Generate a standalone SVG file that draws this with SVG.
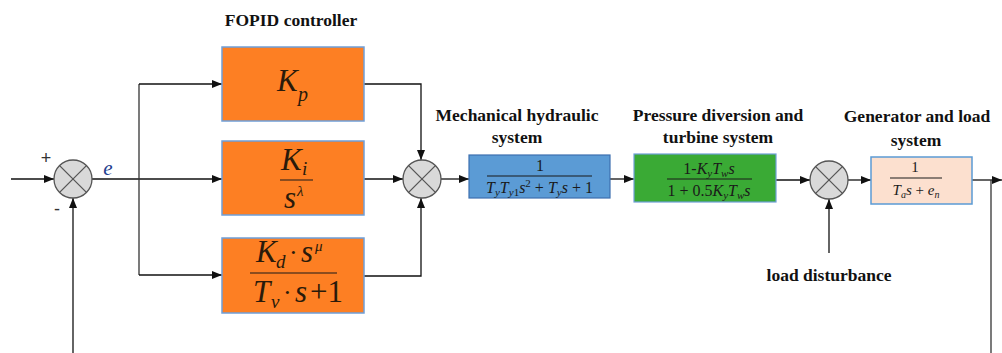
<svg xmlns="http://www.w3.org/2000/svg" width="1002" height="353" viewBox="0 0 1002 353">
<defs>
<marker id="ah" viewBox="0 0 10 10" refX="10" refY="5" markerWidth="10" markerHeight="10" markerUnits="userSpaceOnUse" orient="auto"><path d="M0,1 L10,5 L0,9 z" fill="#111"/></marker>
</defs>
<style>
.ln{fill:none;stroke:#333;stroke-width:1.3}
.ar{fill:none;stroke:#111;stroke-width:1.3;marker-end:url(#ah)}
.sum{fill:#d9d9d9;stroke:#555;stroke-width:1.3}
.x{stroke:#555;stroke-width:1.3}
.lbl{font-weight:bold;font-size:17.5px;fill:#111;text-anchor:middle}
.m{font-style:italic;fill:#2a1a0a}
.mu{fill:#2a1a0a}
.t{fill:#1a1a1a;text-anchor:middle}
.i{font-style:italic}
.orange{fill:#fd7f23;stroke:#6f9fd8;stroke-width:1.5}
.blue{fill:#5b9bd5;stroke:#3c6fb0;stroke-width:1.2}
.green{fill:#3aaa35;stroke:#6f9fd8;stroke-width:1.2}
.peach{fill:#fce0cf;stroke:#5b9bd5;stroke-width:1.5}
.fr{stroke:#1a1a1a;stroke-width:1.2}
</style>

<g id="connectors">
<line class="ar" x1="11" y1="179" x2="54" y2="179"/>
<line class="ar" x1="73" y1="353" x2="73" y2="198"/>
<line class="ar" x1="92" y1="179" x2="222" y2="179"/>
<line class="ln" x1="139" y1="275" x2="139" y2="84"/>
<line class="ar" x1="139" y1="84" x2="222" y2="84"/>
<line class="ar" x1="139" y1="275" x2="222" y2="275"/>
<polyline class="ar" points="364,84 421,84 421,160"/>
<line class="ar" x1="364" y1="179" x2="403" y2="179"/>
<polyline class="ar" points="364,276 421,276 421,198"/>
<line class="ar" x1="441" y1="179" x2="469" y2="179"/>
<line class="ar" x1="610" y1="179" x2="634" y2="179"/>
<line class="ar" x1="776" y1="180" x2="810" y2="180"/>
<line class="ar" x1="829" y1="253" x2="829" y2="199"/>
<line class="ar" x1="848" y1="180" x2="871" y2="180"/>
<line class="ar" x1="972" y1="180" x2="1002" y2="180"/>
<line class="ln" x1="991" y1="180" x2="991" y2="353"/>
</g>

<g id="sum1">
<circle class="sum" cx="73" cy="179" r="19"/>
<line class="x" x1="59.6" y1="165.6" x2="86.4" y2="192.4"/>
<line class="x" x1="86.4" y1="165.6" x2="59.6" y2="192.4"/>
<text x="46" y="164" font-size="18" fill="#333" text-anchor="middle" font-family="Liberation Sans, sans-serif">+</text>
<text x="57" y="215" font-size="18" fill="#333" text-anchor="middle" font-family="Liberation Sans, sans-serif">-</text>
<text x="108" y="175" font-style="italic" font-size="21" fill="#1f3f8f" text-anchor="middle" font-family="Liberation Serif, serif">e</text>
</g>

<g id="fopid-label">
<text class="lbl" x="291" y="26" font-family="Liberation Serif, serif">FOPID controller</text>
</g>

<g id="kp">
<rect class="orange" x="222" y="47" width="142" height="74"/>
<text class="m" x="277" y="91" font-size="31" font-family="Liberation Serif, serif">K</text>
<text class="m" x="298" y="101" font-size="20" font-family="Liberation Serif, serif">p</text>
</g>

<g id="ki">
<rect class="orange" x="222" y="141" width="142" height="74"/>
<text class="m" x="281" y="170" font-size="31" font-family="Liberation Serif, serif">K</text>
<text class="m" x="302" y="175" font-size="19" font-family="Liberation Serif, serif">i</text>
<line class="fr" x1="280" y1="180" x2="313" y2="180"/>
<text class="m" x="284" y="208" font-size="31" font-family="Liberation Serif, serif">s</text>
<text class="m" x="297" y="196" font-size="15" font-family="Liberation Serif, serif">λ</text>
</g>

<g id="kd">
<rect class="orange" x="222" y="238" width="142" height="75"/>
<text class="m" x="256" y="262" font-size="31" font-family="Liberation Serif, serif">K</text>
<text class="m" x="276" y="268" font-size="19" font-family="Liberation Serif, serif">d</text>
<text class="mu" x="289" y="261" font-size="26" font-family="Liberation Serif, serif">·</text>
<text class="m" x="301" y="262" font-size="31" font-family="Liberation Serif, serif">s</text>
<text class="m" x="315" y="251" font-size="15" font-family="Liberation Serif, serif">μ</text>
<line class="fr" x1="250" y1="273" x2="337" y2="273"/>
<text class="m" x="253" y="302" font-size="31" font-family="Liberation Serif, serif">T</text>
<text class="m" x="271" y="308" font-size="19" font-family="Liberation Serif, serif">v</text>
<text class="mu" x="283" y="301" font-size="26" font-family="Liberation Serif, serif">·</text>
<text class="m" x="295" y="302" font-size="31" font-family="Liberation Serif, serif">s</text>
<text class="mu" x="310" y="302" font-size="31" font-family="Liberation Serif, serif">+1</text>
</g>

<g id="sum2">
<circle class="sum" cx="422" cy="179" r="19"/>
<line class="x" x1="408.6" y1="165.6" x2="435.4" y2="192.4"/>
<line class="x" x1="435.4" y1="165.6" x2="408.6" y2="192.4"/>
</g>

<g id="mech">
<text class="lbl" x="517" y="121" font-family="Liberation Serif, serif">Mechanical hydraulic</text>
<text class="lbl" x="517" y="143" font-family="Liberation Serif, serif">system</text>
<rect class="blue" x="469" y="155" width="141" height="43"/>
<text class="t" x="540" y="171" font-size="16" font-family="Liberation Serif, serif">1</text>
<line class="fr" x1="487" y1="176" x2="592" y2="176"/>
<text class="t" x="539.5" y="193" font-size="16" font-family="Liberation Serif, serif"><tspan class="i">T</tspan><tspan class="i" font-size="11" dy="3">y</tspan><tspan class="i" dy="-3">T</tspan><tspan class="i" font-size="11" dy="3">y</tspan><tspan font-size="11">1</tspan><tspan class="i" dy="-3">s</tspan><tspan font-size="11" dy="-6">2</tspan><tspan dy="6"> + </tspan><tspan class="i">T</tspan><tspan class="i" font-size="11" dy="3">y</tspan><tspan class="i" dy="-3">s</tspan><tspan> + 1</tspan></text>
</g>

<g id="turbine">
<text class="lbl" x="718" y="121" font-family="Liberation Serif, serif">Pressure diversion and</text>
<text class="lbl" x="718" y="143" font-family="Liberation Serif, serif">turbine system</text>
<rect class="green" x="634" y="154" width="142" height="48"/>
<text class="t" x="709" y="174" font-size="16" font-family="Liberation Serif, serif">1-<tspan class="i">K</tspan><tspan class="i" font-size="11" dy="3">y</tspan><tspan class="i" dy="-3">T</tspan><tspan class="i" font-size="11" dy="3">w</tspan><tspan class="i" dy="-3">s</tspan></text>
<line class="fr" x1="667" y1="179" x2="752" y2="179"/>
<text class="t" x="709" y="196" font-size="16" font-family="Liberation Serif, serif">1 + 0.5<tspan class="i">K</tspan><tspan class="i" font-size="11" dy="3">y</tspan><tspan class="i" dy="-3">T</tspan><tspan class="i" font-size="11" dy="3">w</tspan><tspan class="i" dy="-3">s</tspan></text>
</g>

<g id="sum3">
<circle class="sum" cx="829" cy="180" r="19"/>
<line class="x" x1="815.6" y1="166.6" x2="842.4" y2="193.4"/>
<line class="x" x1="842.4" y1="166.6" x2="815.6" y2="193.4"/>
<text class="lbl" x="829" y="281" font-family="Liberation Serif, serif">load disturbance</text>
</g>

<g id="generator">
<text class="lbl" x="917" y="122" font-family="Liberation Serif, serif">Generator and load</text>
<text class="lbl" x="916" y="146" font-family="Liberation Serif, serif">system</text>
<rect class="peach" x="871" y="157" width="101" height="47"/>
<text class="t" x="915" y="172" font-size="15" font-family="Liberation Serif, serif">1</text>
<line class="fr" x1="890" y1="178" x2="942" y2="178"/>
<text class="t" x="916" y="195" font-size="15" font-family="Liberation Serif, serif"><tspan class="i">T</tspan><tspan class="i" font-size="10" dy="3">a</tspan><tspan class="i" dy="-3">s</tspan> + <tspan class="i">e</tspan><tspan class="i" font-size="10" dy="3">n</tspan></text>
</g>
</svg>
